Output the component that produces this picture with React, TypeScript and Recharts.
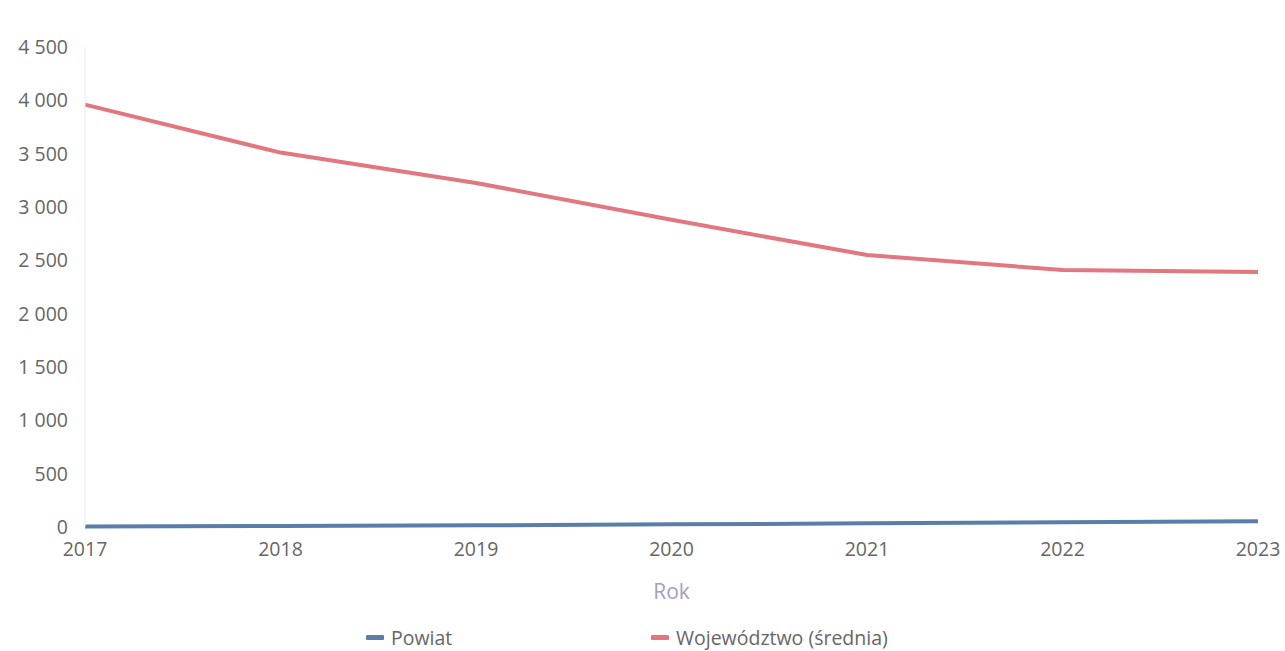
import { LineChart, Line, XAxis, YAxis, Legend } from "recharts";

const years = ["2017", "2018", "2019", "2020", "2021", "2022", "2023"];
const powiat = [4, 9, 16, 25, 34, 45, 55];
const wojewodztwo = [3960, 3510, 3225, 2880, 2550, 2410, 2390];
const yTicks = [0, 500, 1000, 1500, 2000, 2500, 3000, 3500, 4000, 4500];

const data = years.map((rok, i) => ({
  rok,
  powiat: powiat[i],
  woj: wojewodztwo[i],
}));

const BLUE = "#5a7ea8";
const RED = "#e2777f";

const fmt = (v: number) => v.toLocaleString("en-US").replace(/,/g, " ");

function LegendContent() {
  const items = [
    { name: "Powiat", color: BLUE, left: 366 },
    { name: "Województwo (średnia)", color: RED, left: 651 },
  ];
  return (
    <div style={{ position: "relative", height: 30, width: 1285 }}>
      {items.map((it) => (
        <div
          key={it.name}
          style={{
            position: "absolute",
            left: it.left,
            top: 3,
            display: "flex",
            alignItems: "center",
            fontSize: 19.5,
            color: "#666",
          }}
        >
          <span
            style={{
              display: "inline-block",
              width: 18,
              height: 5,
              background: it.color,
              marginRight: 7,
              borderRadius: 1,
            }}
          />
          {it.name}
        </div>
      ))}
    </div>
  );
}

export default function App() {
  return (
    <div
      style={{
        position: "absolute",
        left: 0,
        top: 0,
        width: 1285,
        height: 651,
        background: "#fff",
        fontFamily: "'Open Sans', sans-serif",
      }}
    >
      <LineChart
        width={1285}
        height={651}
        data={data}
        margin={{ top: 47, right: 27, left: 0, bottom: 0 }}
      >
        <XAxis
          dataKey="rok"
          tickLine={false}
          axisLine={false}
          tickSize={0}
          tickMargin={15}
          height={94}
          interval={0}
          tick={{ fill: "#666", fontSize: 19.5 }}
          label={{
            value: "Rok",
            position: "insideTop",
            offset: 57,
            fill: "#a3a0c0",
            fontSize: 21,
          }}
        />
        <YAxis
          width={85}
          domain={[0, 4500]}
          ticks={yTicks}
          tickFormatter={fmt}
          tickLine={false}
          axisLine={{ stroke: "#e8e8f2" }}
          tickSize={0}
          tickMargin={17}
          tick={{ fill: "#666", fontSize: 19.5 }}
        />
        <Legend verticalAlign="bottom" height={30} content={<LegendContent />} />
        <Line
          type="linear"
          dataKey="woj"
          name="Województwo (średnia)"
          stroke={RED}
          strokeWidth={4}
          strokeLinejoin="round"
          dot={false}
          isAnimationActive={false}
        />
        <Line
          type="linear"
          dataKey="powiat"
          name="Powiat"
          stroke={BLUE}
          strokeWidth={4}
          strokeLinejoin="round"
          dot={false}
          isAnimationActive={false}
        />
      </LineChart>
    </div>
  );
}
